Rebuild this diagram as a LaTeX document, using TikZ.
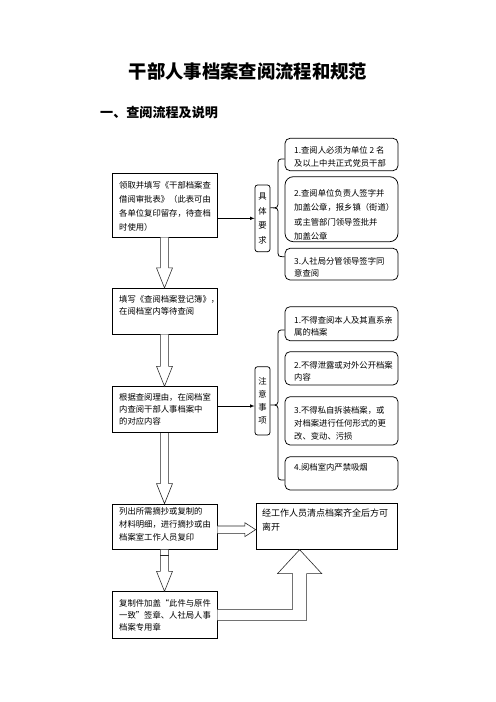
\documentclass[tikz,border=0pt]{standalone}
\usepackage{fontspec}
\newfontfamily\cjk{Noto Sans CJK SC}
\usetikzlibrary{fit,calc,math}

\tikzset{
  box/.style={draw, line width=0.9pt, inner sep=0pt},
  rbox/.style={box, rounded corners=#1},
  rbox/.default=6pt,
  txt/.style={font=\cjk\fontsize{10}{#1}\selectfont, align=left, inner sep=0pt, anchor=north west},
  txt/.default=15.2pt,
  hollow/.style={draw=black!85, line width=0.7pt, fill=white},
}

% hollow block arrow pointing down, from one node to the next
\newcommand{\blockdown}[2]{%
  \draw[hollow] let \p1=(#1.south), \p2=(#2.north) in
    (\x1-5pt,\y1) -- (\x1-5pt,\y2+24pt) -- (\x1-9.6pt,\y2+24pt) -- (\x1,\y2)
    -- (\x1+9.6pt,\y2+24pt) -- (\x1+5pt,\y2+24pt) -- (\x1+5pt,\y1);
}

\begin{document}
\begin{tikzpicture}[x=1.2pt,y=-1.2pt]
  \useasboundingbox (0,0) rectangle (496,702);
  \tikzmath{
    real \bracea, \braceb;
    \bracea=(159+256.7)/2;
    \braceb=(330+480)/2;
  }

  \node[font=\cjk\bfseries\fontsize{22}{26}\selectfont] (title) at (248,71) {干部人事档案查阅流程和规范};
  \node[font=\cjk\bfseries\fontsize{15.7}{18}\selectfont, anchor=west, inner sep=0pt] (sec) at (100,113) {一、查阅流程及说明};

  % left column
  \node[box, fit={(112,173) (217,237)}] (b1) {};
  \node[box, fit={(112,288.3) (217,334)}] (b2) {};
  \node[box, fit={(112,386.7) (217,432.7)}] (b3) {};
  \node[box, fit={(112,504) (217,549.3)}] (b4) {};
  \node[box, fit={(112,591.7) (217,638)}] (b6) {};
  \node[box, fit={(256,503) (397,549.3)}] (b5) {};

  \node[txt=16.8pt] (t1) at (119,181.5) {领取并填写《干部档案查\\借阅审批表》（此表可由\\各单位复印留存，待查档\\时使用）};
  \node[txt] (t2) at (119,294.8) {填写《查阅档案登记簿》，\\在阅档室内等待查阅};
  \node[txt=14.8pt] (t3) at (119,392.8) {根据查阅理由，在阅档室\\内查阅干部人事档案中\\的对应内容};
  \node[txt] (t4) at (119,507.5) {列出所需摘抄或复制的\\材料明细，进行摘抄或由\\档案室工作人员复印};
  \node[txt=16.8pt, font=\cjk\fontsize{10.8}{16.8}\selectfont] (t5) at (262,508.8) {经工作人员清点档案齐全后方可\\离开};
  \node[txt=14.4pt] (t6) at (119,598.8) {复制件加盖“此件与原件\\一致”签章、人社局人事\\档案专用章};

  % requirement groups
  \node[rbox=3pt, fit={(255,185) (270,251.7)}] (k1) {};
  \node[rbox=3pt, fit={(255,366.7) (270,435)}] (k2) {};
  \node[txt=17.5pt, align=center, anchor=center] (kt1) at (k1) {具\\体\\要\\求};
  \node[txt=15.6pt, align=center, anchor=center] (kt2) at (k2) {注\\意\\事\\项};

  \node[rbox, fit={(285,138.3) (398,170.7)}] (r1) {};
  \node[rbox=10pt, fit={(285,176.7) (398,241.7)}] (r2) {};
  \node[rbox, fit={(285,248.3) (398,280)}] (r3) {};
  \node[txt] (rt1) at (294,146.5) {1.查阅人必须为单位 2 名\\及以上中共正式党员干部};
  \node[txt=17.5pt] (rt2) at (294,188.8) {2.查阅单位负责人签字并\\加盖公章，报乡镇（街道）\\或主管部门领导签批并\\加盖公章};
  \node[txt=14.5pt] (rt3) at (294,257.5) {3.人社局分管领导签字同\\意查阅};

  \node[rbox, fit={(285,306.7) (398,340.7)}] (n1) {};
  \node[rbox, fit={(285,351.7) (398,385)}] (n2) {};
  \node[rbox, fit={(285,396.7) (398,445)}] (n3) {};
  \node[rbox, fit={(285,456.7) (398,490)}] (n4) {};
  \node[txt=14.4pt] (nt1) at (294,316.5) {1.不得查阅本人及其直系亲\\属的档案};
  \node[txt=14.4pt] (nt2) at (294,360.8) {2.不得泄露或对外公开档案\\内容};
  \node[txt] (nt3) at (294,406.5) {3.不得私自拆装档案，或\\对档案进行任何形式的更\\改、变动、污损};
  \node[txt] (nt4) at (294,463) {4.阅档室内严禁吸烟};

  % braces
  \draw[line width=0.9pt] (r1.west |- 0,159) .. controls (278,159) .. (278,166)
    -- (278,\bracea-7) .. controls (278,\bracea) .. (k1.east |- 0,\bracea)
    .. controls (278,\bracea) .. (278,\bracea+7) -- (278,249.7)
    .. controls (278,256.7) .. (r3.west |- 0,256.7);
  \draw[line width=0.9pt] (n1.west |- 0,330) .. controls (278,330) .. (278,337)
    -- (278,\braceb-7) .. controls (278,\braceb) .. (k2.east |- 0,\braceb)
    .. controls (278,\braceb) .. (278,\braceb+7) -- (278,473)
    .. controls (278,480) .. (n4.west |- 0,480);

  % thin arrows to the groups
  \draw[-latex, line width=0.9pt] (k1.west -| b1.east) -- (k1.west);
  \draw[-latex, line width=0.9pt] (b3.east |- 0,406) -- (k2.west |- 0,406);

  % block arrows
  \blockdown{b1}{b2}
  \blockdown{b2}{b3}
  \blockdown{b3}{b4}
  \blockdown{b4}{b6}
  \draw[hollow] ([shift={(-5pt,-7pt)}]b4.south) -- ++(10pt,0);

  \draw[hollow] let \p1=(b4.east), \p2=(b5.west) in
    (\x1,\y1+0.8pt) -- (\x2-13pt,\y1+0.8pt) -- (\x2-13pt,\y1+4.8pt) -- (\x2,\y1-3.6pt)
    -- (\x2-13pt,\y1-12pt) -- (\x2-13pt,\y1-8pt) -- (\x1,\y1-8pt);

  \coordinate (tip) at ([xshift=52.8pt]b5.south west);
  \draw[hollow] let \p1=(b6.east), \p2=(tip) in
    (\x1,\y1+6.6pt) -- (\x2-8.4pt,\y1+6.6pt) -- (\x2-8.4pt,\y2-28.8pt) -- (\x2-26.6pt,\y2-28.8pt)
    -- (\x2,\y2) -- (\x2+26.6pt,\y2-28.8pt) -- (\x2+8.4pt,\y2-28.8pt) -- (\x2+8.4pt,\y1-6.6pt)
    -- (\x1,\y1-6.6pt);
\end{tikzpicture}
\end{document}
